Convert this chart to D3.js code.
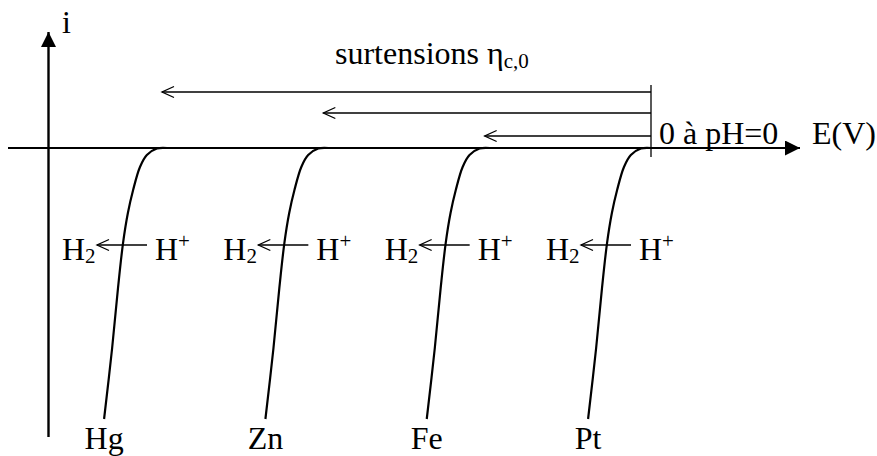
<!DOCTYPE html>
<html><head><meta charset="utf-8">
<script src="https://cdn.jsdelivr.net/npm/d3@7"></script>
<style>
html,body{margin:0;padding:0;background:#fff;}
svg{display:block;}
text{font-family:"Liberation Serif","Times New Roman",serif;fill:#000;}
</style></head>
<body>
<script>
// ---- data ----
const metals = ["Hg", "Zn", "Fe", "Pt"];
const onsetE = [-1.2, -0.8, -0.4, 0];           // schematic cathodic overpotential onset (V)
const shapeDE = [0, -0.025, -0.05, -0.067, -0.084, -0.097, -0.109, -0.1215, -0.136, -0.156]; // E offset from onset
const shapeI  = [0, -0.002, -0.026, -0.070, -0.155, -0.240, -0.351, -0.517, -0.738, -1.0];   // relative current
const arrowMetals = ["Hg", "Zn", "Fe"];          // overpotential arrows
const axisLabelX = "E(V)";
const axisLabelY = "i";
const refLabel = "0 à pH=0";
const titleMain = "surtensions η";
const titleSub = "c,0";

const W = 877, H = 456;
const svg = d3.select("body").append("svg").attr("width", W).attr("height", H);

const x = d3.scaleLinear().domain([-1.2, 0]).range([167, 651]);
const y = d3.scaleLinear().domain([-1, 0]).range([419, 148]);

const FS = 32, FSS = 21;

const defs = svg.append("defs");
defs.append("marker").attr("id", "solid").attr("viewBox", "0 0 10 10")
  .attr("refX", 10).attr("refY", 5).attr("markerWidth", 15).attr("markerHeight", 15)
  .attr("markerUnits", "userSpaceOnUse").attr("orient", "auto")
  .append("path").attr("d", "M0,0 L10,5 L0,10 Z").attr("fill", "#000");

function chevron(g, xt, yt, dir) {
  g.append("path")
    .attr("d", `M${xt + dir * 12},${yt - 5.5} L${xt},${yt} L${xt + dir * 12},${yt + 5.5}`)
    .attr("fill", "none").attr("stroke", "#000").attr("stroke-width", 1.3);
}

// axes
const x0 = 48.5;
const y0 = y(0);
svg.append("line").attr("x1", 8).attr("x2", 800).attr("y1", y0).attr("y2", y0)
  .attr("stroke", "#000").attr("stroke-width", 2).attr("marker-end", "url(#solid)");
svg.append("line").attr("x1", x0).attr("x2", x0).attr("y1", 437).attr("y2", 32)
  .attr("stroke", "#000").attr("stroke-width", 2.4).attr("marker-end", "url(#solid)");

svg.append("text").attr("x", 62).attr("y", 33).attr("font-size", FS).text(axisLabelY);
svg.append("text").attr("x", 812).attr("y", 144).attr("font-size", FS).text(axisLabelX);
svg.append("text").attr("x", 659).attr("y", 144).attr("font-size", FS).text(refLabel);

// reference vertical mark at E=0
svg.append("line").attr("x1", x(0)).attr("x2", x(0)).attr("y1", 85).attr("y2", 157)
  .attr("stroke", "#000").attr("stroke-width", 1.3);

// overpotential arrows
const arrY = [92, 113, 136];
arrowMetals.forEach((m, k) => {
  const e = onsetE[metals.indexOf(m)];
  const xt = x(e) - 5;
  svg.append("line").attr("x1", x(0)).attr("x2", xt).attr("y1", arrY[k]).attr("y2", arrY[k])
    .attr("stroke", "#000").attr("stroke-width", 1.3);
  chevron(svg, xt, arrY[k], 1);
});

// title
const t = svg.append("text").attr("x", 335).attr("y", 64).attr("font-size", FS);
t.append("tspan").text(titleMain);
t.append("tspan").attr("font-size", FSS).attr("dy", 4).text(titleSub);

// curves
const line = d3.line().x(d => x(d[0])).y(d => y(d[1])).curve(d3.curveCatmullRom.alpha(0.5));
metals.forEach((m, k) => {
  const e0 = onsetE[k];
  const pts = shapeDE.map((d, j) => [e0 + d, shapeI[j]]);
  svg.append("path").attr("d", line(pts)).attr("fill", "none")
    .attr("stroke", "#000").attr("stroke-width", 2.2);

  const xo = x(e0);
  const ry = 245;
  const lt = svg.append("text").attr("x", xo - 105).attr("y", 260).attr("font-size", FS);
  lt.append("tspan").text("H");
  lt.append("tspan").attr("font-size", FSS).attr("dy", 3).text("2");
  svg.append("line").attr("x1", xo - 70).attr("x2", xo - 20).attr("y1", ry).attr("y2", ry)
    .attr("stroke", "#000").attr("stroke-width", 1.3);
  chevron(svg, xo - 70, ry, 1);
  const rt = svg.append("text").attr("x", xo - 12).attr("y", 260).attr("font-size", FS);
  rt.append("tspan").text("H");
  rt.append("tspan").attr("font-size", FSS).attr("dy", -12).text("+");

  const last = pts[pts.length - 1];
  svg.append("text").attr("x", x(last[0])).attr("y", 449).attr("text-anchor", "middle")
    .attr("font-size", FS).text(m);
});
</script>
</body></html>
